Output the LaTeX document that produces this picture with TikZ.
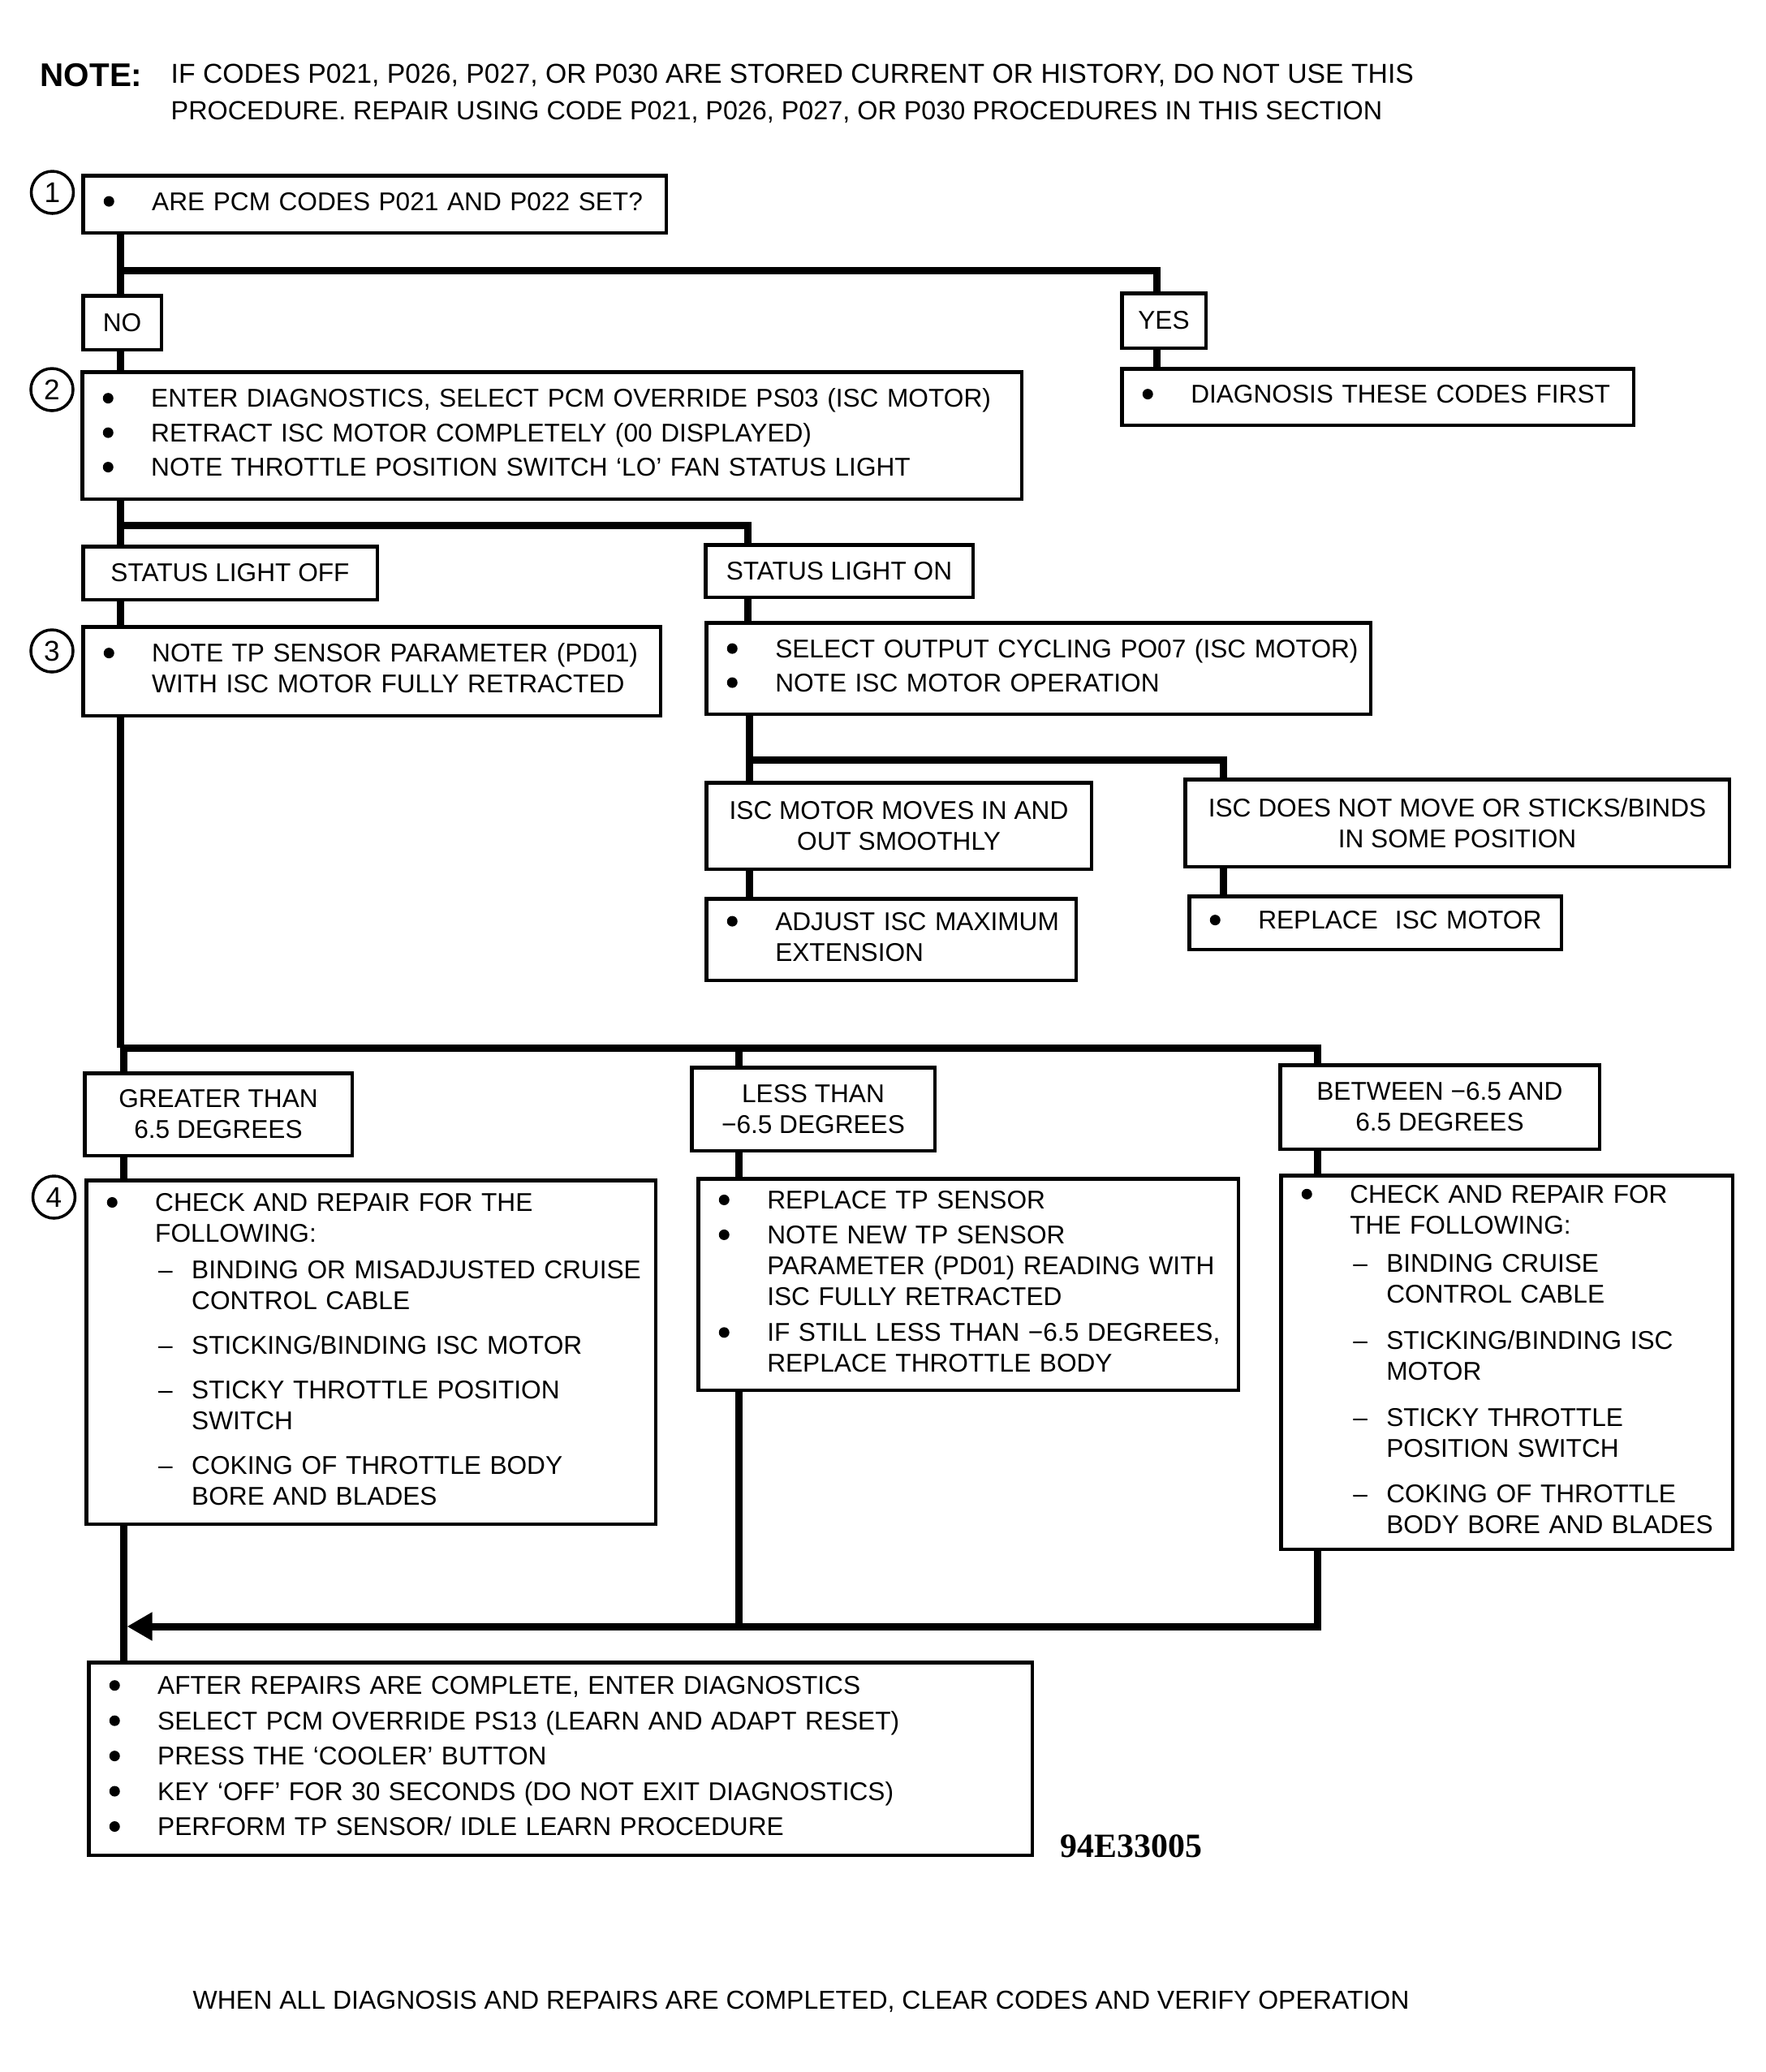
\documentclass[tikz,border=0pt]{standalone}
\usepackage{fontspec}
\setmainfont{Liberation Sans}
\newfontfamily\codefont{Liberation Serif}
\usetikzlibrary{positioning,arrows.meta}

\tikzset{
  panel/.style={draw, line width=0.45mm, inner xsep=0pt, inner ysep=0pt},
  answer/.style={draw, line width=0.45mm, inner sep=0pt, align=center},
  link/.style={line width=0.9mm},
  num/.style={circle, draw, line width=0.35mm, minimum size=5.2mm, inner sep=0pt, font=\fontsize{10}{10}\selectfont},
  plain/.style={anchor=base west, inner sep=0pt},
}
\newcommand{\bul}{\tikz[baseline=-1.1mm]\fill (0,0) circle (0.65mm);}
\newcommand{\dsh}{\makebox[4.5mm][l]{\hspace{0.4mm}--}}
\newcommand{\ind}{\hspace{4.5mm}}
\newenvironment{steps}{\begin{tabular}{@{\hspace{2.55mm}}p{5.95mm}@{}l@{}}}{\end{tabular}}

\begin{document}
\begin{tikzpicture}[font=\fontsize{9}{10.8}\selectfont]
\useasboundingbox (0,0) rectangle (217.6mm,-255.3mm);
% header
\node [plain, font=\fontsize{11.5}{13}\selectfont\bfseries] (note) at (4.9mm,-10.6mm) {NOTE:};
\node [plain, font=\fontsize{9.6}{11}\selectfont] (note1) at (21mm,-10.2mm) {IF CODES P021, P026, P027, OR P030 ARE STORED CURRENT OR HISTORY, DO NOT USE THIS};
\node [plain, font=\fontsize{9.2}{11}\selectfont] (note2) at (21mm,-14.7mm) {PROCEDURE. REPAIR USING CODE P021, P026, P027, OR P030 PROCEDURES IN THIS SECTION};

% step 1
\node [panel, text width=71.85mm, minimum height=7.05mm, anchor=north west] (q1) at (10mm,-21.4mm)
  {\begin{steps}\bul & ARE PCM CODES P021 AND P022 SET?\end{steps}};
\node [num] (n1) at ([xshift=-3.55mm, yshift=-2.3mm]q1.north west) {1};
\node [answer, minimum width=9.65mm, minimum height=6.65mm, below right=7.3mm and 0mm of q1.south west] (no) {NO};
\node [answer, minimum width=10.35mm, minimum height=6.75mm, below right=14.5mm and 55.7mm of q1.north east] (yes) {YES};
\node [panel, text width=63.05mm, minimum height=6.95mm, below right=2.1mm and 0mm of yes.south west] (diag)
  {\begin{steps}\bul & DIAGNOSIS THESE CODES FIRST\end{steps}};

% step 2
\node [panel, text width=115.75mm, minimum height=15.65mm, below right=2.3mm and -0.1mm of no.south west] (s2) {\begin{steps}
\bul & ENTER DIAGNOSTICS, SELECT PCM OVERRIDE PS03 (ISC MOTOR)\\[0.45mm]
\bul & RETRACT ISC MOTOR COMPLETELY (00 DISPLAYED)\\[0.45mm]
\bul & NOTE THROTTLE POSITION SWITCH ‘LO’ FAN STATUS LIGHT
\end{steps}};
\node [num] (n2) at ([xshift=-3.5mm, yshift=-2.4mm]s2.north west) {2};
\node [answer, minimum width=36.25mm, minimum height=6.55mm, below right=5.4mm and 0.1mm of s2.south west] (off) {STATUS LIGHT OFF};
\node [answer, minimum width=32.95mm, minimum height=6.45mm, below right=-0.2mm and 40mm of off.north east] (on) {STATUS LIGHT ON};

% step 3
\node [panel, text width=71.15mm, minimum height=10.95mm, below right=2.9mm and 0mm of off.south west] (s3) {\begin{steps}
\bul & NOTE TP SENSOR PARAMETER (PD01)\\
 & WITH ISC MOTOR FULLY RETRACTED
\end{steps}};
\node [num] (n3) at ([xshift=-3.6mm, yshift=-3.2mm]s3.north west) {3};
\node [panel, text width=81.85mm, minimum height=11.25mm, below right=2.7mm and 0.1mm of on.south west] (sel) {\begin{steps}
\bul & SELECT OUTPUT CYCLING PO07 (ISC MOTOR)\\[0.4mm]
\bul & NOTE ISC MOTOR OPERATION
\end{steps}};
\node [answer, minimum width=47.45mm, minimum height=10.65mm, below right=8mm and 0mm of sel.south west] (moves) {ISC MOTOR MOVES IN AND\\OUT SMOOTHLY};
\node [panel, text width=45.55mm, minimum height=10.05mm, below right=3.2mm and 0mm of moves.south west] (adj) {\begin{steps}
\bul & ADJUST ISC MAXIMUM\\
 & EXTENSION
\end{steps}};
\node [answer, minimum width=67.05mm, minimum height=10.75mm, below right=-0.4mm and 11.1mm of moves.north east] (stick) {ISC DOES NOT MOVE OR STICKS/BINDS\\IN SOME POSITION};
\node [panel, text width=45.85mm, minimum height=6.55mm, below right=3.2mm and 0.5mm of stick.south west] (repl)
  {\begin{steps}\bul & REPLACE\ \ ISC MOTOR\end{steps}};

% step 4
\node [answer, minimum width=32.95mm, minimum height=10.15mm, below right=43.6mm and 0.2mm of s3.south west] (gt) {GREATER THAN\\6.5 DEGREES};
\node [answer, minimum width=29.95mm, minimum height=10.25mm, below right=-0.7mm and 41.4mm of gt.north east] (lt) {LESS THAN\\−6.5 DEGREES};
\node [answer, minimum width=39.35mm, minimum height=10.35mm, below right=-0.3mm and 42.1mm of lt.north east] (btw) {BETWEEN −6.5 AND\\6.5 DEGREES};
\node [panel, text width=70.15mm, minimum height=42.35mm, below right=2.6mm and 0.2mm of gt.south west] (s4a) {\begin{steps}
\bul & CHECK AND REPAIR FOR THE\\
 & FOLLOWING:\\[0.75mm]
 & \dsh BINDING OR MISADJUSTED CRUISE\\
 & \ind CONTROL CABLE\\[1.7mm]
 & \dsh STICKING/BINDING ISC MOTOR\\[1.7mm]
 & \dsh STICKY THROTTLE POSITION\\
 & \ind SWITCH\\[1.7mm]
 & \dsh COKING OF THROTTLE BODY\\
 & \ind BORE AND BLADES
\end{steps}};
\node [num] (n4) at ([xshift=-3.75mm, yshift=-2.3mm]s4a.north west) {4};
\node [panel, text width=66.55mm, minimum height=26.05mm, below right=3mm and 0.8mm of lt.south west] (s4b) {\begin{steps}
\bul & REPLACE TP SENSOR\\[0.5mm]
\bul & NOTE NEW TP SENSOR\\
 & PARAMETER (PD01) READING WITH\\
 & ISC FULLY RETRACTED\\[0.65mm]
\bul & IF STILL LESS THAN −6.5 DEGREES,\\
 & REPLACE THROTTLE BODY
\end{steps}};
\node [panel, text width=55.65mm, minimum height=46.05mm, below right=2.8mm and 0.1mm of btw.south west] (s4c) {\begin{steps}
\bul & CHECK AND REPAIR FOR\\
 & THE FOLLOWING:\\[0.9mm]
 & \dsh BINDING CRUISE\\
 & \ind CONTROL CABLE\\[1.9mm]
 & \dsh STICKING/BINDING ISC\\
 & \ind MOTOR\\[1.9mm]
 & \dsh STICKY THROTTLE\\
 & \ind POSITION SWITCH\\[1.9mm]
 & \dsh COKING OF THROTTLE\\
 & \ind BODY BORE AND BLADES
\end{steps}};

% final step
\node [panel, text width=116.25mm, minimum height=23.75mm, below right=16.6mm and 0.3mm of s4a.south west] (fin) {\begin{steps}
\bul & AFTER REPAIRS ARE COMPLETE, ENTER DIAGNOSTICS\\[0.55mm]
\bul & SELECT PCM OVERRIDE PS13 (LEARN AND ADAPT RESET)\\[0.55mm]
\bul & PRESS THE ‘COOLER’ BUTTON\\[0.55mm]
\bul & KEY ‘OFF’ FOR 30 SECONDS (DO NOT EXIT DIAGNOSTICS)\\[0.55mm]
\bul & PERFORM TP SENSOR/ IDLE LEARN PROCEDURE
\end{steps}};
\node [plain, font=\codefont\bfseries\fontsize{11.9}{13}\selectfont] (code) at ([xshift=3.2mm]fin.south east) {94E33005};
\node [plain, font=\fontsize{9.1}{11}\selectfont] (last) at (23.7mm,-247.5mm) {WHEN ALL DIAGNOSIS AND REPAIRS ARE COMPLETED, CLEAR CODES AND VERIFY OPERATION};

% connectors
\coordinate (spine) at ([xshift=4.8mm]q1.south west);
\coordinate (spinelow) at ([xshift=5.2mm]q1.south west);
\coordinate (yesx) at ([xshift=4.5mm]yes.south west);
\coordinate (onx) at ([xshift=5.4mm]on.south west);
\coordinate (selx) at ([xshift=5.5mm]sel.south west);
\coordinate (stx) at ([xshift=4.9mm]stick.south west);
\coordinate (ltx) at ([xshift=6mm]lt.south west);
\coordinate (btx) at ([xshift=4.8mm]btw.south west);
\coordinate (bar1) at ([yshift=-4.4mm]q1.south west);
\coordinate (bar2) at ([yshift=-3mm]s2.south west);
\coordinate (bar3) at ([yshift=2.9mm]gt.north west);
\coordinate (bar4) at ([yshift=2.6mm]moves.north west);
\coordinate (bar5) at ([yshift=4.2mm]fin.north west);
\coordinate (tip) at (bar5 -| spinelow);

\draw [link] (q1.south -| spine) -- (no.north -| spine);
\draw [link] (bar1 -| spine) -| (yes.north -| yesx);
\draw [link] (yes.south -| yesx) -- (diag.north -| yesx);
\draw [link] (no.south -| spine) -- (s2.north -| spine);
\draw [link] (s2.south -| spine) -- (off.north -| spine);
\draw [link] (bar2 -| spine) -| (on.north -| onx);
\draw [link] (on.south -| onx) -- (sel.north -| onx);
\draw [link] (sel.south -| selx) -- (moves.north -| selx);
\draw [link] (bar4 -| selx) -| (stick.north -| stx);
\draw [link] (moves.south -| selx) -- (adj.north -| selx);
\draw [link] (stick.south -| stx) -- (repl.north -| stx);
\draw [link] (off.south -| spine) -- (s3.north -| spine);
\draw [link] (s3.south -| spine) -- (bar3 -| spine);
\draw [link] (bar3 -| spinelow) -- (gt.north -| spinelow);
\draw [link] (bar3 -| spine) -| (btw.north -| btx);
\draw [link] (bar3 -| ltx) -- (lt.north -| ltx);
\draw [link] (gt.south -| spinelow) -- (s4a.north -| spinelow);
\draw [link] (lt.south -| ltx) -- (s4b.north -| ltx);
\draw [link] (btw.south -| btx) -- (s4c.north -| btx);
\draw [link] (s4a.south -| spinelow) -- (fin.north -| spinelow);
\draw [link, -{Triangle[length=3.1mm,width=3.3mm]}] (s4c.south -| btx) |- ([xshift=0.45mm]tip);
\draw [link] (s4b.south -| ltx) -- (bar5 -| ltx);
\end{tikzpicture}
\end{document}
